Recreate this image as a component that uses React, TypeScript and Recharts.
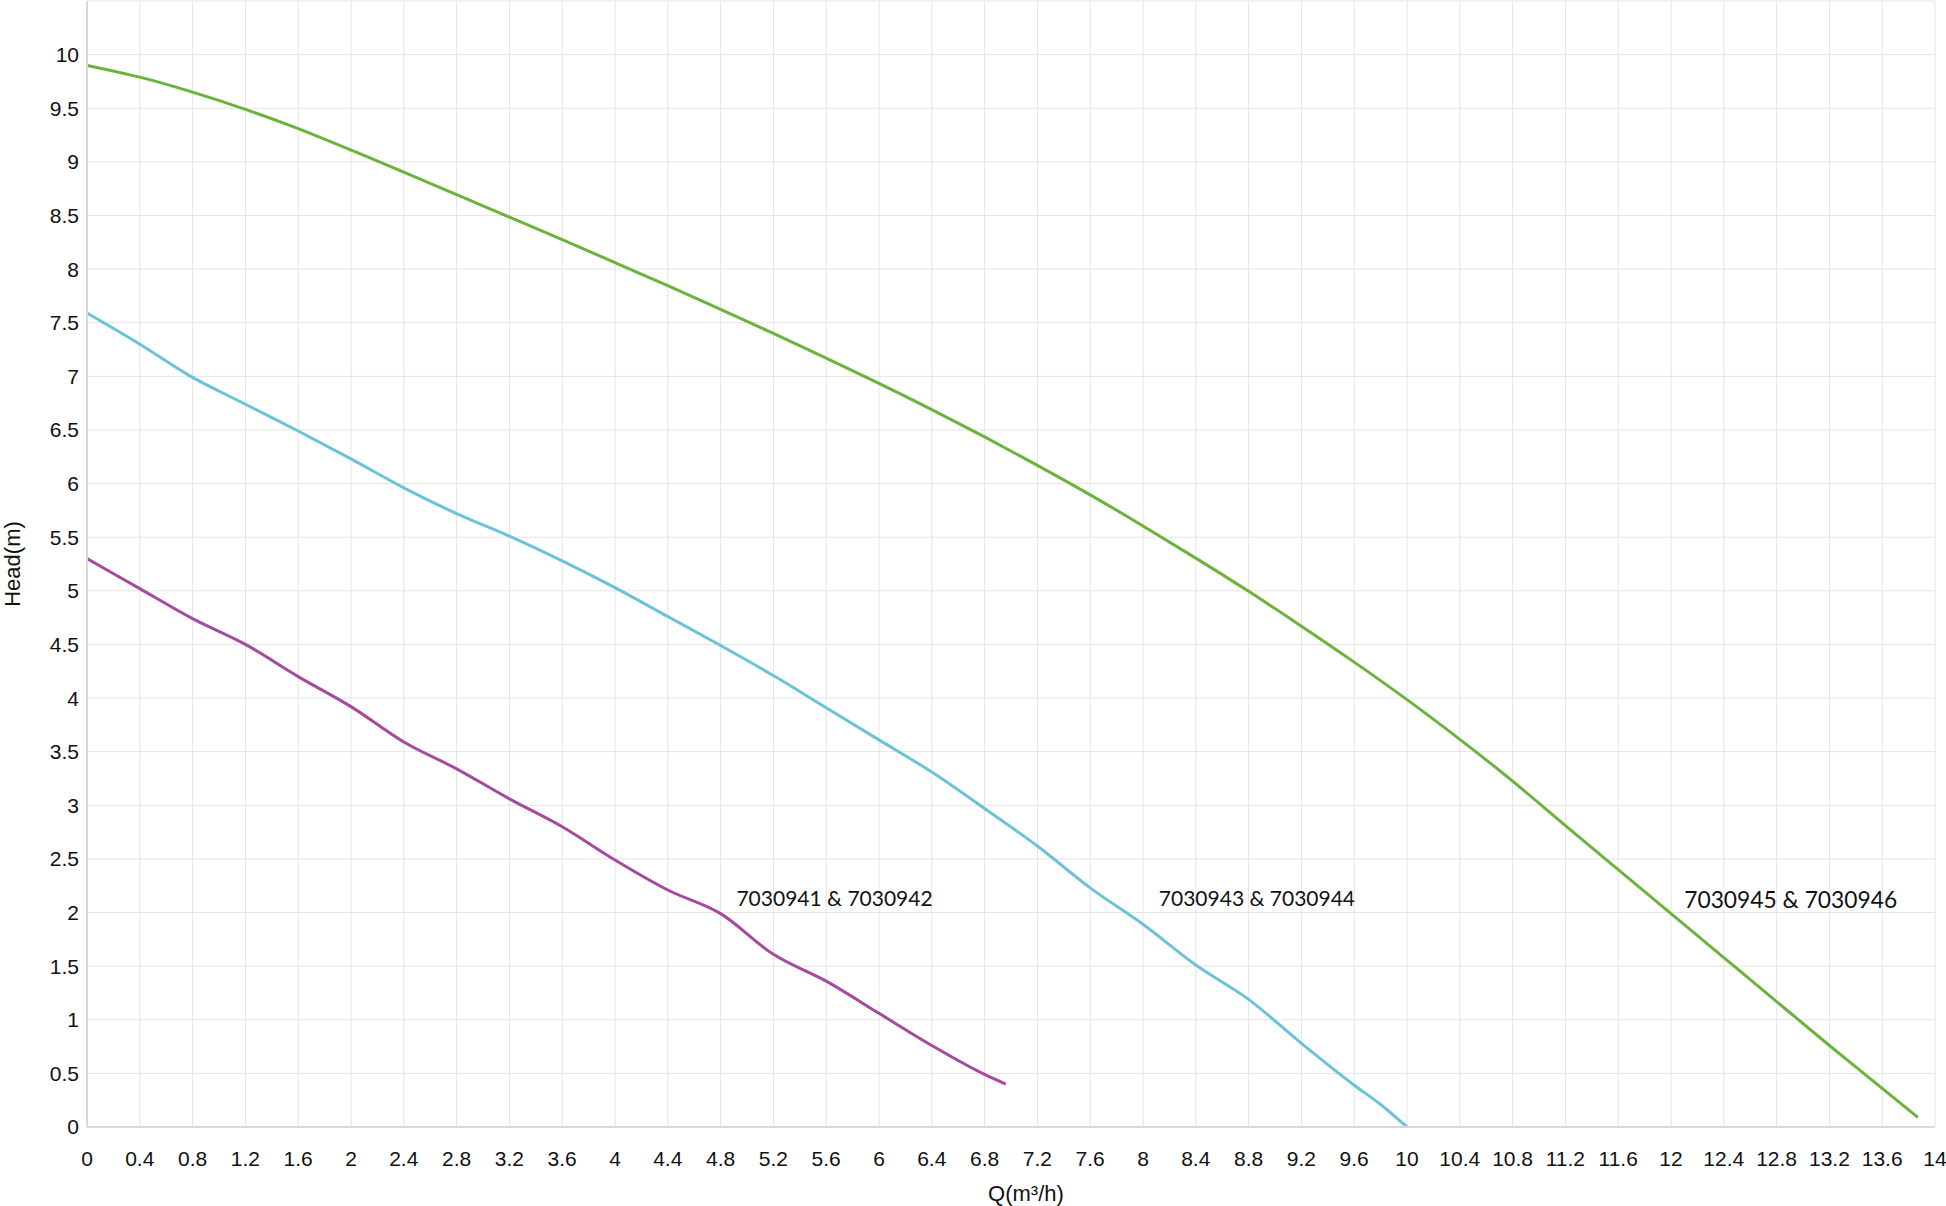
import React from 'react';
import {
  LineChart,
  Line,
  XAxis,
  YAxis,
  CartesianGrid,
  ReferenceDot,
} from 'recharts';

// pump curves, Q (m3/h) vs Head (m)
const q41 = [0, 0.4, 0.8, 1.2, 1.6, 2.0, 2.4, 2.8, 3.2, 3.6, 4.0, 4.4, 4.8, 5.2, 5.6, 6.0, 6.4, 6.8, 6.96];
const h41 = [5.3, 5.02, 4.74, 4.5, 4.2, 3.92, 3.59, 3.34, 3.06, 2.8, 2.49, 2.21, 1.99, 1.61, 1.36, 1.06, 0.76, 0.49, 0.4];

const q43 = [0, 0.4, 0.8, 1.2, 1.6, 2.0, 2.4, 2.8, 3.2, 3.6, 4.0, 4.4, 4.8, 5.2, 5.6, 6.0, 6.4, 6.8, 7.2, 7.6, 8.0, 8.4, 8.8, 9.2, 9.6, 9.8, 10.0];
const h43 = [7.59, 7.3, 6.99, 6.74, 6.49, 6.23, 5.96, 5.72, 5.51, 5.28, 5.03, 4.76, 4.49, 4.21, 3.91, 3.61, 3.31, 2.97, 2.62, 2.23, 1.89, 1.51, 1.19, 0.78, 0.39, 0.21, 0];

const q45 = [0, 0.4, 0.8, 1.2, 1.6, 2.0, 2.4, 2.8, 3.2, 3.6, 4.0, 4.4, 4.8, 5.2, 5.6, 6.0, 6.4, 6.8, 7.2, 7.6, 8.0, 8.4, 8.8, 9.2, 9.6, 10.0, 10.4, 10.8, 11.2, 11.6, 12.0, 12.4, 12.8, 13.2, 13.6, 13.87];
const h45 = [
  9.9, 9.79, 9.65, 9.49, 9.31, 9.11, 8.905, 8.695, 8.485, 8.275, 8.06, 7.845, 7.625, 7.4, 7.17, 6.935, 6.69, 6.435,
  6.17, 5.895, 5.605, 5.305, 4.995, 4.67, 4.335, 3.985, 3.615, 3.225, 2.81, 2.4, 1.99, 1.58, 1.17, 0.76, 0.36, 0.09,
];

const seriesNames = ['7030941 & 7030942', '7030943 & 7030944', '7030945 & 7030946'];
// where each curve's name sits (left end of text, baseline), in chart units
const labelQ = [4.92, 8.12, 12.1];
const labelH = [2.06, 2.06, 2.04];
const labelSize = [21, 21, 22.8];

const xTicks = [
  0, 0.4, 0.8, 1.2, 1.6, 2, 2.4, 2.8, 3.2, 3.6, 4, 4.4, 4.8, 5.2, 5.6, 6, 6.4, 6.8, 7.2, 7.6,
  8, 8.4, 8.8, 9.2, 9.6, 10, 10.4, 10.8, 11.2, 11.6, 12, 12.4, 12.8, 13.2, 13.6, 14,
];
const yTicks = [0, 0.5, 1, 1.5, 2, 2.5, 3, 3.5, 4, 4.5, 5, 5.5, 6, 6.5, 7, 7.5, 8, 8.5, 9, 9.5, 10, 10.5];

const toPoints = (q: number[], h: number[]) => q.map((v, i) => ({ q: v, h: h[i] }));

const colors = ['#a64a9f', '#6cc3d8', '#6ab43c'];
const curveTypes = ['monotone', 'monotone', 'natural'] as const;
const series = [toPoints(q41, h41), toPoints(q43, h43), toPoints(q45, h45)];

const axisFont = '"Liberation Sans", Arial, sans-serif';
const tickStyle = { fontSize: 21, fill: '#111', fontFamily: axisFont };

const nameShape = (text: string, size: number) => (props: any) => (
  <text
    x={props.cx}
    y={props.cy}
    fontFamily="Lato, 'Open Sans', sans-serif"
    fontSize={size}
    fill="#111"
  >
    {text}
  </text>
);

export default function App() {
  return (
    <div style={{ position: 'absolute', left: 0, top: 0, width: 1946, height: 1206, background: '#fff' }}>
      <LineChart
        width={1946}
        height={1206}
        margin={{ top: 1, right: 11, bottom: 0, left: 0 }}
      >
        <CartesianGrid stroke="#e4e4e4" strokeWidth={1} />
        <XAxis
          type="number"
          dataKey="q"
          domain={[0, 14]}
          ticks={xTicks}
          interval={0}
          height={79}
          tickLine={false}
          tickMargin={18}
          tick={tickStyle}
          axisLine={{ stroke: '#d9d9d9', strokeWidth: 2 }}
          allowDataOverflow
          label={({ viewBox }: any) => (
            <text
              x={viewBox.x + viewBox.width / 2 + 15}
              y={1201}
              textAnchor="middle"
              fontFamily={axisFont}
              fontSize={22}
              fill="#111"
            >
              Q(m³/h)
            </text>
          )}
        />
        <YAxis
          type="number"
          domain={[0, 10.5]}
          ticks={yTicks}
          interval={0}
          width={87}
          tickLine={false}
          tick={tickStyle}
          tickFormatter={(v: number) => (v > 10 ? '' : String(v))}
          axisLine={{ stroke: '#d9d9d9', strokeWidth: 2 }}
          allowDataOverflow
          label={({ viewBox }: any) => (
            <text
              x={12}
              y={viewBox.y + viewBox.height / 2}
              textAnchor="middle"
              dominantBaseline="central"
              transform={`rotate(-90, 12, ${viewBox.y + viewBox.height / 2})`}
              fontFamily={axisFont}
              fontSize={22}
              fill="#111"
            >
              Head(m)
            </text>
          )}
        />
        {series.map((pts, i) => (
          <Line
            key={seriesNames[i]}
            data={pts}
            dataKey="h"
            name={seriesNames[i]}
            type={curveTypes[i]}
            stroke={colors[i]}
            strokeWidth={3}
            dot={false}
            activeDot={false}
            isAnimationActive={false}
          />
        ))}
        {seriesNames.map((name, i) => (
          <ReferenceDot
            key={name}
            x={labelQ[i]}
            y={labelH[i]}
            r={0}
            shape={nameShape(name, labelSize[i])}
          />
        ))}
      </LineChart>
    </div>
  );
}
